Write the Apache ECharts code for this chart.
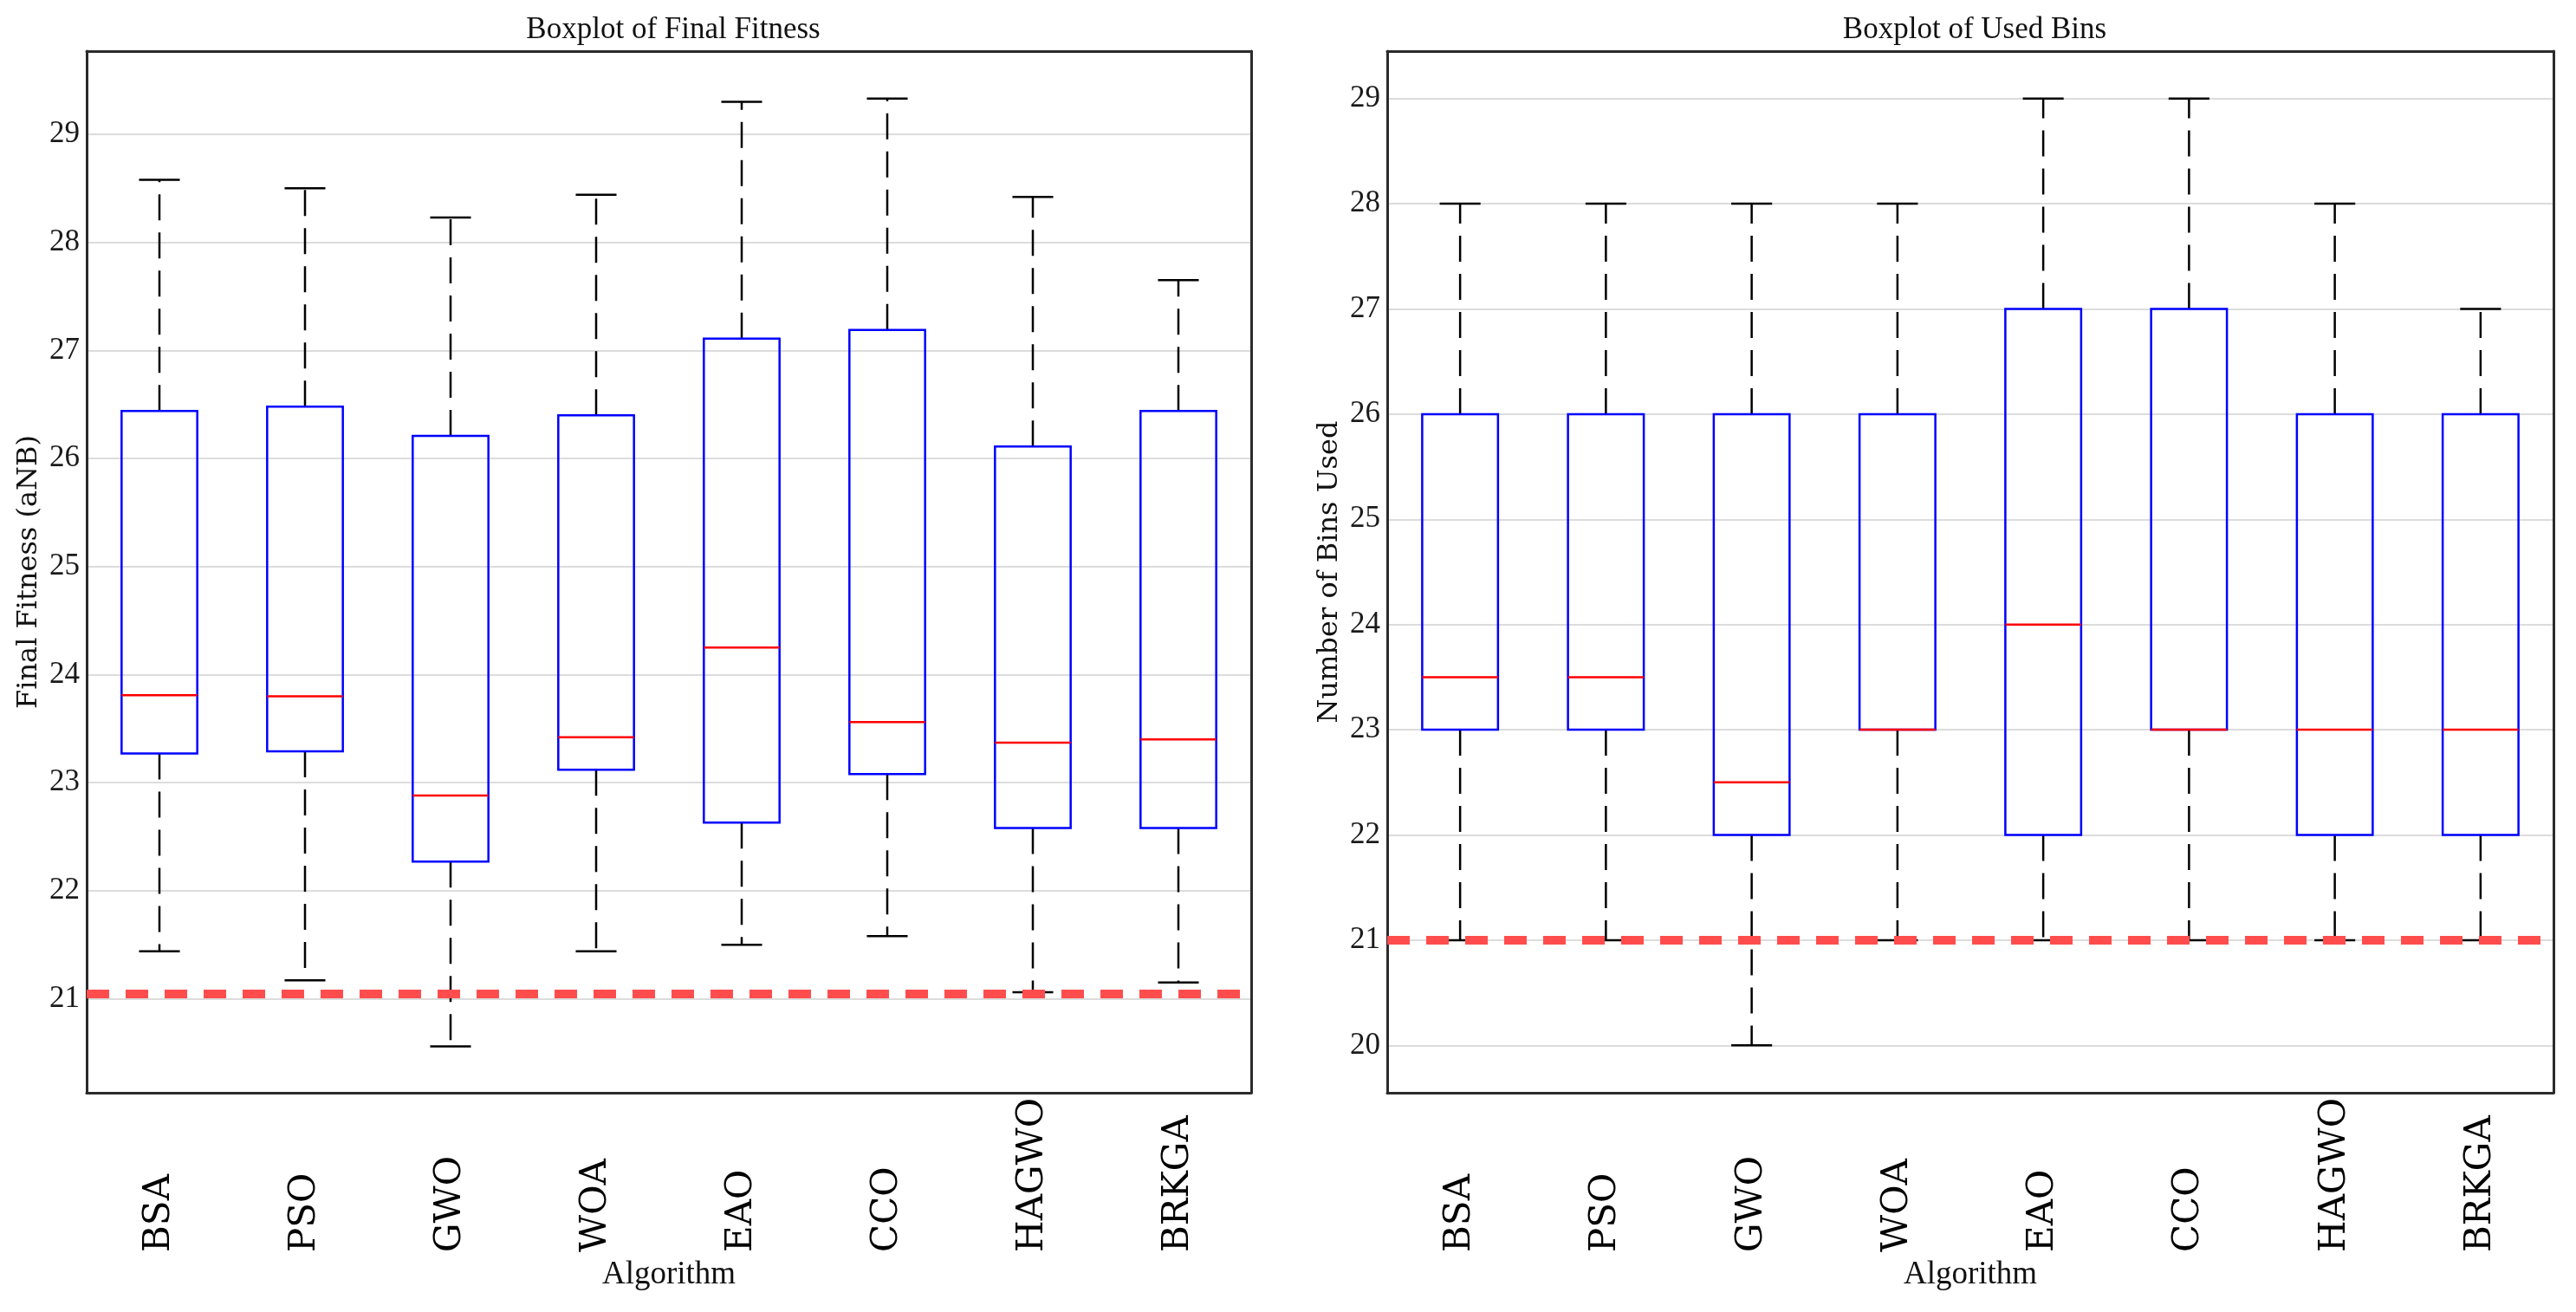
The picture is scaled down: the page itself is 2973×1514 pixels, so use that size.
<!DOCTYPE html>
<html lang="en">
<head>
<meta charset="UTF-8">
<title>Boxplot of Final Fitness / Used Bins</title>
<script src="https://cdn.jsdelivr.net/npm/echarts@6/dist/echarts.min.js"></script>
<style>
    html, body { margin: 0; padding: 0; background: #fff; }
    #main { width: 2973px; height: 1514px; }
</style>
</head>
<body>
<div id="main"></div>
<script>
    var algorithms = ['BSA', 'PSO', 'GWO', 'WOA', 'EAO', 'CCO', 'HAGWO', 'BRKGA'];

    // final fitness (aNB): whisker low, Q1, median, Q3, whisker high
    var fitnessMin = [21.44, 21.17, 20.56, 21.44, 21.50, 21.58, 21.06, 21.15];
    var fitnessQ1  = [23.27, 23.29, 22.27, 23.12, 22.63, 23.08, 22.58, 22.58];
    var fitnessMed = [23.81, 23.80, 22.88, 23.42, 24.25, 23.56, 23.37, 23.40];
    var fitnessQ3  = [26.44, 26.48, 26.21, 26.40, 27.11, 27.19, 26.11, 26.44];
    var fitnessMax = [28.58, 28.50, 28.23, 28.44, 29.30, 29.33, 28.42, 27.65];
    var fitnessRef = 21.05;
    var fitnessRange = [20.13, 29.77];

    // number of bins used
    var binsMin = [21, 21, 20, 21, 21, 21, 21, 21];
    var binsQ1  = [23, 23, 22, 23, 22, 23, 22, 22];
    var binsMed = [23.5, 23.5, 22.5, 23, 24, 23, 23, 23];
    var binsQ3  = [26, 26, 26, 26, 27, 27, 26, 26];
    var binsMax = [28, 28, 28, 28, 29, 29, 28, 27];
    var binsRef = 21;
    var binsRange = [19.55, 29.45];

    function boxRows(lo, q1, med, q3, hi) {
        return algorithms.map(function (name, i) {
            return [i, lo[i], q1[i], med[i], q3[i], hi[i]];
        });
    }

    // matlab style box: blue box, red median, black dashed whiskers
    function renderBox(params, api) {
        var x = api.value(0);
        var lo = api.coord([x, api.value(1)]);
        var q1 = api.coord([x, api.value(2)]);
        var med = api.coord([x, api.value(3)]);
        var q3 = api.coord([x, api.value(4)]);
        var hi = api.coord([x, api.value(5)]);
        var band = api.size([1, 0])[0];
        var bw = band * 0.52, cw = band * 0.28;
        var cx = q1[0];
        var dash = { stroke: '#000', lineWidth: 2.5, lineDash: [30, 14], fill: null };
        var solid = { stroke: '#000', lineWidth: 2.5, fill: null };
        return {
            type: 'group',
            children: [
                { type: 'line', shape: { x1: cx, y1: q3[1], x2: cx, y2: hi[1] }, style: dash },
                { type: 'line', shape: { x1: cx, y1: q1[1], x2: cx, y2: lo[1] }, style: dash },
                { type: 'line', shape: { x1: cx - cw / 2, y1: hi[1], x2: cx + cw / 2, y2: hi[1] }, style: solid },
                { type: 'line', shape: { x1: cx - cw / 2, y1: lo[1], x2: cx + cw / 2, y2: lo[1] }, style: solid },
                { type: 'rect', shape: { x: cx - bw / 2, y: q3[1], width: bw, height: q1[1] - q3[1] },
                  style: { fill: null, stroke: '#0000ff', lineWidth: 2.5 } },
                { type: 'line', shape: { x1: cx - bw / 2, y1: med[1], x2: cx + bw / 2, y2: med[1] },
                  style: { stroke: '#ff0000', lineWidth: 2.5 } }
            ]
        };
    }

    function intLabel(v) {
        return Math.abs(v - Math.round(v)) < 1e-6 ? String(Math.round(v)) : '';
    }

    var serif = 'Liberation Serif';
    var wide = '"DejaVu Serif", serif';
    var frame = { show: true, lineStyle: { color: '#2b2b2b', width: 3 } };

    function yAxes(gi, range, name) {
        return [{
            gridIndex: gi, type: 'value', position: 'left',
            min: range[0], max: range[1], minInterval: 1, maxInterval: 1, splitNumber: 10,
            name: name, nameLocation: 'middle', nameGap: 50, nameRotate: 90,
            nameTextStyle: { fontFamily: wide, fontSize: 32, color: '#111' },
            axisLine: frame,
            axisTick: { inside: true, length: 14, lineStyle: { color: '#222', width: 3 } },
            axisLabel: { fontFamily: serif, fontSize: 35, color: '#1a1a1a', margin: 8,
                         showMinLabel: false, showMaxLabel: false, formatter: intLabel },
            splitLine: { showMinLine: false, showMaxLine: false, lineStyle: { color: '#dcdcdc', width: 2 } }
        }, {
            gridIndex: gi, type: 'value', position: 'right',
            min: range[0], max: range[1], minInterval: 1, maxInterval: 1, splitNumber: 10,
            axisLine: frame,
            axisTick: { inside: true, length: 14, lineStyle: { color: '#222', width: 3 } },
            axisLabel: { show: false },
            splitLine: { show: false }
        }];
    }

    function xAxes(gi) {
        return [{
            gridIndex: gi, type: 'category', data: algorithms, position: 'bottom',
            name: 'Algorithm', nameLocation: 'middle', nameGap: 192,
            nameTextStyle: { fontFamily: serif, fontSize: 37, color: '#111' },
            axisLine: frame,
            axisTick: { show: false },
            axisLabel: { rotate: 90, align: 'left', verticalAlign: 'middle', margin: 184,
                         fontFamily: wide, fontSize: 42, color: '#000' }
        }, {
            gridIndex: gi, type: 'category', data: algorithms, position: 'top',
            axisLine: frame,
            axisTick: { show: false },
            axisLabel: { show: false }
        }];
    }

    function refLine(xi, yi, value) {
        return {
            type: 'line', xAxisIndex: xi, yAxisIndex: yi, data: [], z: 5, silent: true,
            markLine: {
                silent: true, symbol: ['none', 'none'], label: { show: false },
                lineStyle: { color: '#ff4d4d', width: 10, type: [26, 19] },
                emphasis: { disabled: true },
                data: [{ yAxis: value }]
            }
        };
    }

    var myChart = echarts.init(document.getElementById('main'));
    var option = {
        animation: false,
        backgroundColor: '#fff',
        title: [
            { text: 'Boxplot of Final Fitness', left: 772, top: 12, textAlign: 'center',
              textStyle: { fontFamily: serif, fontSize: 35, fontWeight: 'normal', color: '#111' } },
            { text: 'Boxplot of Used Bins', left: 2274, top: 12, textAlign: 'center',
              textStyle: { fontFamily: serif, fontSize: 35, fontWeight: 'normal', color: '#111' } }
        ],
        grid: [
            { left: 100, top: 59, width: 1344, height: 1202 },
            { left: 1601, top: 59, width: 1346, height: 1202 }
        ],
        xAxis: xAxes(0).concat(xAxes(1)),
        yAxis: yAxes(0, fitnessRange, 'Final Fitness (aNB)').concat(yAxes(1, binsRange, 'Number of Bins Used')),
        series: [
            { type: 'custom', xAxisIndex: 0, yAxisIndex: 0, z: 2, silent: true,
              renderItem: renderBox, encode: { x: 0, y: [1, 2, 3, 4, 5] },
              data: boxRows(fitnessMin, fitnessQ1, fitnessMed, fitnessQ3, fitnessMax) },
            { type: 'custom', xAxisIndex: 2, yAxisIndex: 2, z: 2, silent: true,
              renderItem: renderBox, encode: { x: 0, y: [1, 2, 3, 4, 5] },
              data: boxRows(binsMin, binsQ1, binsMed, binsQ3, binsMax) },
            refLine(0, 0, fitnessRef),
            refLine(2, 2, binsRef)
        ]
    };
    myChart.setOption(option);
</script>
</body>
</html>
